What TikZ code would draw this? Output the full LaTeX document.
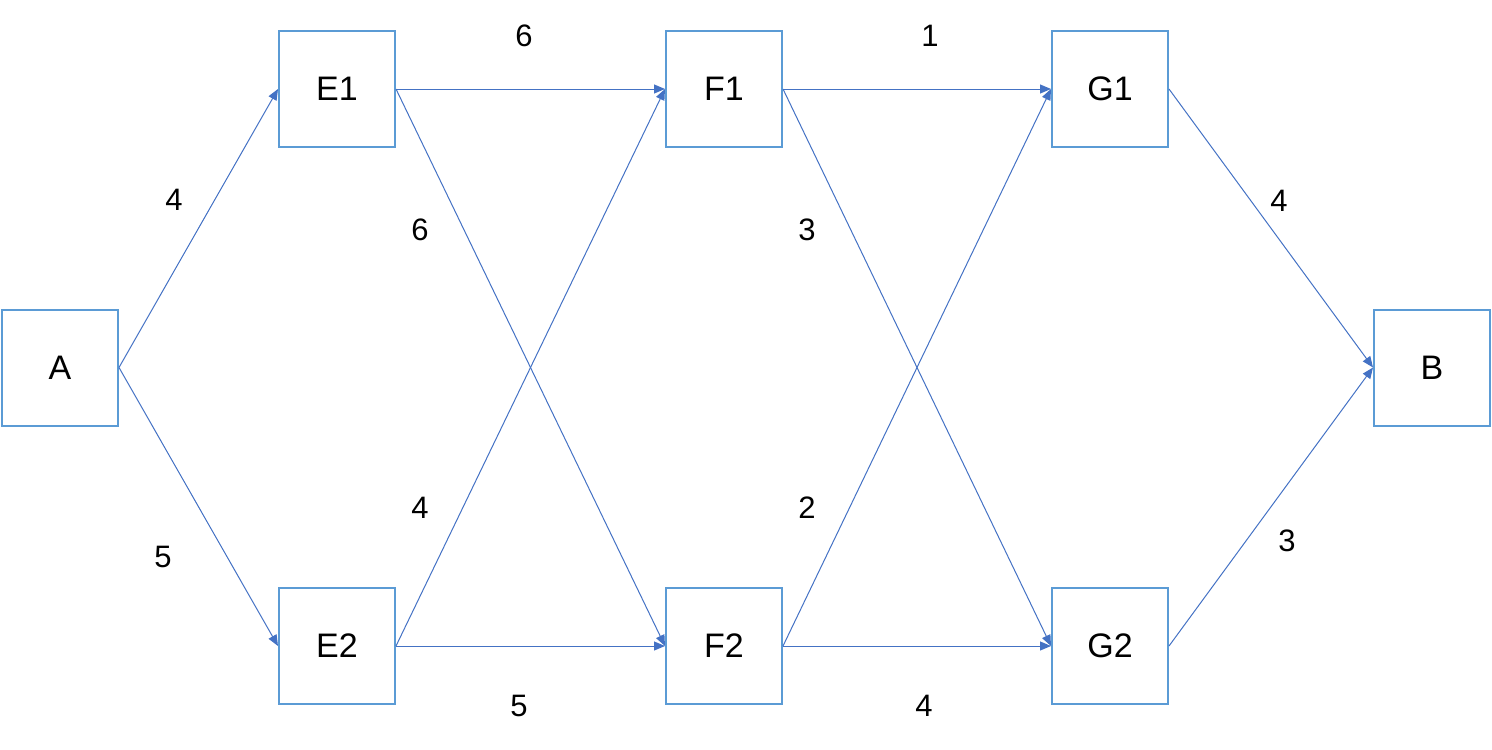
\documentclass[tikz,border=0pt]{standalone}
\usepackage{fontspec}
\setmainfont{Liberation Sans}
\usetikzlibrary{arrows.meta}
\definecolor{boxblue}{HTML}{5B9BD5}
\definecolor{edgeblue}{HTML}{4472C4}
\tikzset{
  stage/.style={draw=boxblue, line width=2pt, minimum width=116pt, minimum height=116pt, inner sep=0pt, font=\fontsize{34}{34}\selectfont},
  edge/.style={draw=edgeblue, line width=1pt, -{Triangle[length=11pt,width=9pt]}, shorten >=0pt},
  wt/.style={font=\fontsize{31}{31}\selectfont, inner sep=0pt}
}
\begin{document}
\begin{tikzpicture}[x=1pt,y=-1pt]
\useasboundingbox (0,0) rectangle (1492,750);
\node[stage] (A) at (60,367.5) {A};
\node[stage] (E1) at (337,89) {E1};
\node[stage] (E2) at (337,646) {E2};
\node[stage] (F1) at (724,89) {F1};
\node[stage] (F2) at (724,646) {F2};
\node[stage] (G1) at (1110,89) {G1};
\node[stage] (G2) at (1110,646) {G2};
\node[stage] (B) at (1432,367.5) {B};
\draw[edge] (A.east) -- (E1.west);
\draw[edge] (A.east) -- (E2.west);
\draw[edge] (E1.east) -- (F1.west);
\draw[edge] (E1.east) -- (F2.west);
\draw[edge] (E2.east) -- (F1.west);
\draw[edge] (E2.east) -- (F2.west);
\draw[edge] (F1.east) -- (G1.west);
\draw[edge] (F1.east) -- (G2.west);
\draw[edge] (F2.east) -- (G1.west);
\draw[edge] (F2.east) -- (G2.west);
\draw[edge] (G1.east) -- (B.west);
\draw[edge] (G2.east) -- (B.west);
\node[wt] (w1) at (524,36) {6};
\node[wt] (w2) at (930,36) {1};
\node[wt] (w3) at (174,200) {4};
\node[wt] (w4) at (420,230) {6};
\node[wt] (w5) at (807,230) {3};
\node[wt] (w6) at (1279,201) {4};
\node[wt] (w7) at (420,508) {4};
\node[wt] (w8) at (807,508) {2};
\node[wt] (w9) at (163,557) {5};
\node[wt] (w10) at (1287,541) {3};
\node[wt] (w11) at (519,706) {5};
\node[wt] (w12) at (924,706) {4};
\end{tikzpicture}
\end{document}
